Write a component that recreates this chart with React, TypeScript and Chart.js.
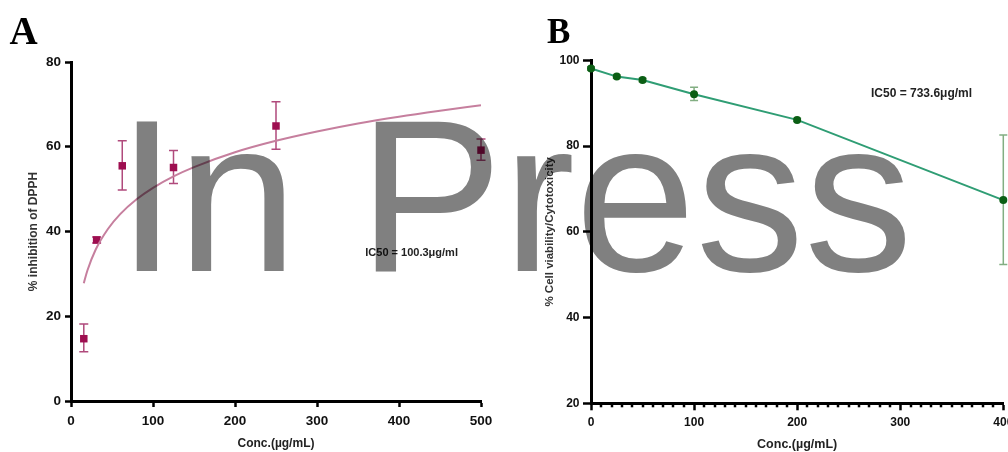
import React, { useEffect, useRef } from "react";
import { Chart, registerables } from "chart.js";

Chart.register(...registerables);

// ---------- Panel A: DPPH inhibition ----------
const dpphConc = [15.6, 31.25, 62.5, 125, 250, 500];
const dpphInhibition = [14.7, 38.0, 55.5, 55.1, 64.9, 59.2];
const dpphErrLow = [11.6, 37.3, 49.8, 51.3, 59.4, 56.8];
const dpphErrHigh = [18.2, 38.7, 61.4, 59.1, 70.6, 61.8];

// fitted curve
const fitConc = [15.6, 20, 30, 45, 60, 80, 100, 125, 150, 200, 250, 300, 350, 400, 450, 500];
const fitInhibition = [27.8, 30.8, 35.7, 40.6, 44.1, 47.6, 50.3, 53.0, 55.2, 58.7, 61.4, 63.6, 65.5, 67.1, 68.5, 69.8];

const dpphXTicks = [0, 100, 200, 300, 400, 500];
const dpphYTicks = [0, 20, 40, 60, 80];

// ---------- Panel B: cell viability ----------
const cellConc = [0, 25, 50, 100, 200, 400];
const cellViability = [98.1, 96.2, 95.4, 92.1, 86.1, 67.4];
const cellErrLow = [97.7, 95.8, 95.0, 90.6, 85.7, 52.4];
const cellErrHigh = [98.5, 96.6, 95.8, 93.7, 86.5, 82.6];

const cellXTicks = [0, 100, 200, 300, 400];
const cellYTicks = [20, 40, 60, 80, 100];

const FONT = "'Liberation Sans', Arial, Helvetica, sans-serif";

function errorBarPlugin(id: string, xs: number[], lows: number[], highs: number[], color: string, cap: number, width: number) {
  return {
    id,
    beforeDatasetsDraw(chart: any) {
      const { ctx, scales } = chart;
      const x = scales.x;
      const y = scales.y;
      ctx.save();
      ctx.strokeStyle = color;
      ctx.lineWidth = width;
      xs.forEach((v, i) => {
        const px = x.getPixelForValue(v);
        const pl = y.getPixelForValue(lows[i]);
        const ph = y.getPixelForValue(highs[i]);
        ctx.beginPath();
        ctx.moveTo(px, pl);
        ctx.lineTo(px, ph);
        ctx.moveTo(px - cap, pl);
        ctx.lineTo(px + cap, pl);
        ctx.moveTo(px - cap, ph);
        ctx.lineTo(px + cap, ph);
        ctx.stroke();
      });
      ctx.restore();
    },
  };
}

function minorTickPlugin(step: number, major: number, len: number) {
  return {
    id: "minorTicks",
    afterDraw(chart: any) {
      const { ctx, scales, chartArea } = chart;
      const x = scales.x;
      ctx.save();
      ctx.strokeStyle = "#000";
      ctx.lineWidth = 2.5;
      for (let v = x.min + step; v < x.max; v += step) {
        if (Math.abs(v % major) < 1e-6) continue;
        const px = Math.round(x.getPixelForValue(v));
        ctx.beginPath();
        ctx.moveTo(px, chartArea.bottom);
        ctx.lineTo(px, chartArea.bottom + len);
        ctx.stroke();
      }
      ctx.restore();
    },
  };
}

function axisCommon(tickSize: number, tickLen: number, pad: number) {
  return {
    ticks: {
      font: { family: FONT, size: tickSize, weight: "bold" as const },
      color: "#111",
      padding: pad,
      autoSkip: false,
      maxRotation: 0,
    },
    grid: {
      drawOnChartArea: false,
      drawTicks: true,
      tickLength: tickLen,
      tickWidth: 2.5,
      tickColor: "#000",
    },
    border: { display: true, color: "#000", width: 3 },
  };
}

export default function App() {
  const refA = useRef<HTMLCanvasElement>(null);
  const refB = useRef<HTMLCanvasElement>(null);

  useEffect(() => {
    const a = axisCommon(13.5, 6, 4);
    const ax = axisCommon(13.5, 6, 6.2);
    const chartA = new Chart(refA.current!, {
      type: "scatter",
      data: {
        datasets: [
          {
            type: "line",
            data: fitConc.map((x, i) => ({ x, y: fitInhibition[i] })),
            borderColor: "#c67f9e",
            borderWidth: 2,
            pointRadius: 0,
            cubicInterpolationMode: "monotone",
            fill: false,
          } as any,
          {
            data: dpphConc.map((x, i) => ({ x, y: dpphInhibition[i] })),
            pointStyle: "rect",
            pointRadius: 5.3,
            backgroundColor: "#9e0e50",
            borderWidth: 0,
            clip: false,
          } as any,
        ],
      },
      options: {
        animation: false,
        responsive: false,
        maintainAspectRatio: false,
        layout: { padding: { left: 0, top: 62, right: 39, bottom: 0 } },
        plugins: { legend: { display: false }, tooltip: { enabled: false } },
        scales: {
          x: {
            type: "linear",
            min: 0,
            max: 500,
            afterFit: (s: any) => { s.height = 51; },
            afterBuildTicks: (s: any) => { s.ticks = dpphXTicks.map((v) => ({ value: v })); },
            ...ax,
            title: {
              display: true,
              text: "Conc.(µg/mL)",
              font: { family: FONT, size: 12, weight: "bold" },
              color: "#222",
              padding: { top: 0, bottom: 0.8 },
            },
          },
          y: {
            type: "linear",
            min: 0,
            max: 80,
            afterFit: (s: any) => { s.width = 71; },
            afterBuildTicks: (s: any) => { s.ticks = dpphYTicks.map((v) => ({ value: v })); },
            ...a,
            title: {
              display: true,
              text: "% inhibition of DPPH",
              font: { family: FONT, size: 12, weight: "bold" },
              color: "#333",
              padding: { top: 26.1, bottom: 0 },
            },
          },
        },
      } as any,
      plugins: [errorBarPlugin("errA", dpphConc, dpphErrLow, dpphErrHigh, "#b04a7c", 4.5, 1.5)],
    });

    const b = axisCommon(12, 8, 3.5);
    const bx = axisCommon(12, 7, 4.8);
    const chartB = new Chart(refB.current!, {
      type: "scatter",
      data: {
        datasets: [
          {
            type: "line",
            data: cellConc.map((x, i) => ({ x, y: cellViability[i] })),
            borderColor: "#2f9d74",
            borderWidth: 2,
            pointRadius: 4,
            pointBackgroundColor: "#0b5e14",
            pointBorderWidth: 0,
            tension: 0,
            fill: false,
            clip: false,
          } as any,
        ],
      },
      options: {
        animation: false,
        responsive: false,
        maintainAspectRatio: false,
        layout: { padding: { left: 0, top: 60.3, right: 16.7, bottom: 0 } },
        plugins: { legend: { display: false }, tooltip: { enabled: false } },
        scales: {
          x: {
            type: "linear",
            min: 0,
            max: 400,
            afterFit: (s: any) => { s.height = 48.7; },
            afterBuildTicks: (s: any) => { s.ticks = cellXTicks.map((v) => ({ value: v })); },
            ...bx,
            title: {
              display: true,
              text: "Conc.(µg/mL)",
              font: { family: FONT, size: 12.5, weight: "bold" },
              color: "#222",
              padding: { top: 0, bottom: 0.2 },
            },
          },
          y: {
            type: "linear",
            min: 20,
            max: 100,
            afterFit: (s: any) => { s.width = 71; },
            afterBuildTicks: (s: any) => { s.ticks = cellYTicks.map((v) => ({ value: v })); },
            ...b,
            title: {
              display: true,
              text: "% Cell viability/Cytotoxicity",
              font: { family: FONT, size: 11.5, weight: "bold" },
              color: "#333",
              padding: { top: 23.1, bottom: 0 },
            },
          },
        },
      } as any,
      plugins: [
        errorBarPlugin("errB", cellConc, cellErrLow, cellErrHigh, "#82ae82", 4, 1.5),
        minorTickPlugin(10, 100, 4),
      ],
    });

    return () => {
      chartA.destroy();
      chartB.destroy();
    };
  }, []);

  const abs: React.CSSProperties = { position: "absolute", whiteSpace: "pre", margin: 0 };

  return (
    <div
      style={{
        position: "fixed",
        left: 0,
        top: 0,
        width: 1008,
        height: 452,
        overflow: "hidden",
        background: "#fff",
      }}
    >
      <canvas ref={refA} width={520} height={452} style={{ position: "absolute", left: 0, top: 0, display: "block" }} />
      <canvas ref={refB} width={500} height={452} style={{ position: "absolute", left: 520, top: 0, display: "block" }} />
      <div style={{ ...abs, left: 9.6, top: 10.6, font: "bold 39px 'Liberation Serif', serif", lineHeight: "39px", color: "#000" }}>A</div>
      <div style={{ ...abs, left: 547, top: 14, font: "bold 35px 'Liberation Serif', serif", lineHeight: "35px", color: "#000" }}>B</div>
      <div style={{ ...abs, left: 365.3, top: 247.3, font: `bold 11px ${FONT}`, lineHeight: "11px", color: "#222" }}>IC50 = 100.3μg/ml</div>
      <div style={{ ...abs, left: 871, top: 87.4, font: `bold 12px ${FONT}`, lineHeight: "12px", color: "#222" }}>IC50 = 733.6μg/ml</div>
      <div
        style={{
          ...abs,
          left: 116.8,
          top: 88.3,
          font: `217px ${FONT}`,
          lineHeight: "217px",
          color: "#808080",
          mixBlendMode: "multiply",
          pointerEvents: "none",
        }}
      >
        In Press
      </div>
    </div>
  );
}
